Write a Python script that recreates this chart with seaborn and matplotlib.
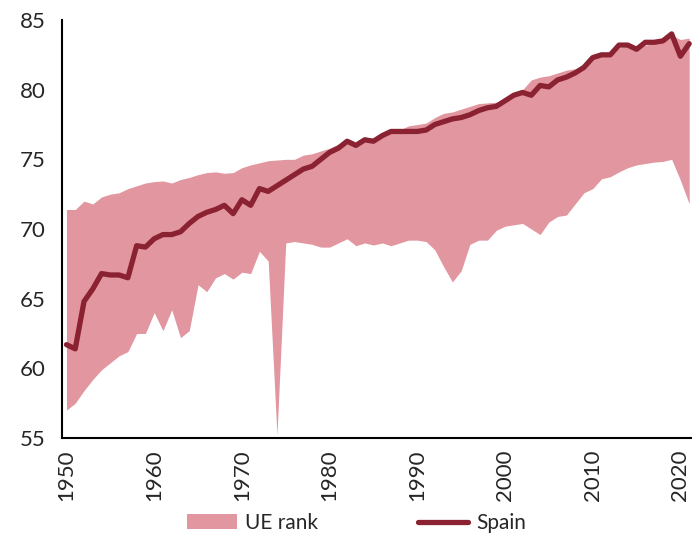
"""
Life expectancy: Spain vs the EU range (min-max band), 1950-2021.
"""

import matplotlib
matplotlib.use("Agg")
import matplotlib.pyplot as plt
import seaborn as sns
import pandas as pd
import numpy as np


years = list(range(1950, 2022))

spain = [
    61.7, 61.4, 64.8, 65.7, 66.8, 66.7, 66.7, 66.5, 68.8, 68.7,
    69.3, 69.6, 69.6, 69.8, 70.4, 70.9, 71.2, 71.4, 71.7, 71.1,
    72.1, 71.7, 72.9, 72.7, 73.1, 73.5, 73.9, 74.3, 74.5, 75.0,
    75.5, 75.8, 76.3, 76.0, 76.4, 76.3, 76.7, 77.0, 77.0, 77.0,
    77.0, 77.1, 77.5, 77.7, 77.9, 78.0, 78.2, 78.5, 78.7, 78.8,
    79.2, 79.6, 79.8, 79.6, 80.3, 80.2, 80.7, 80.9, 81.2, 81.6,
    82.3, 82.5, 82.5, 83.2, 83.2, 82.9, 83.4, 83.4, 83.5, 84.0,
    82.4, 83.3,
]

ue_max = [
    71.4, 71.4, 72.0, 71.8, 72.3, 72.5, 72.6, 72.9, 73.1, 73.3,
    73.4, 73.45, 73.3, 73.55, 73.7, 73.9, 74.05, 74.1, 74.0, 74.05,
    74.4, 74.6, 74.75, 74.9, 74.95, 75.0, 75.0, 75.3, 75.4, 75.6,
    75.8, 76.1, 76.3, 76.2, 76.6, 76.5, 76.7, 77.0, 77.1, 77.4,
    77.5, 77.6, 78.0, 78.3, 78.4, 78.6, 78.8, 79.0, 79.05, 79.1,
    79.3, 79.6, 80.0, 80.7, 80.9, 81.0, 81.2, 81.4, 81.5, 81.7,
    82.2, 82.4, 82.4, 83.0, 83.1, 82.9, 83.2, 83.3, 83.4, 83.9,
    83.6, 83.7,
]

ue_min = [
    57.0, 57.5, 58.4, 59.2, 59.9, 60.4, 60.9, 61.2, 62.5, 62.5,
    64.0, 62.7, 64.2, 62.2, 62.7, 66.0, 65.5, 66.5, 66.8, 66.4,
    66.9, 66.8, 68.4, 67.7, 55.2, 69.0, 69.1, 69.0, 68.9, 68.7,
    68.7, 69.0, 69.3, 68.8, 69.0, 68.85, 69.0, 68.8, 69.0, 69.2,
    69.2, 69.1, 68.5, 67.3, 66.2, 67.0, 68.9, 69.2, 69.2, 69.9,
    70.2, 70.3, 70.4, 70.0, 69.6, 70.5, 70.9, 71.0, 71.8, 72.6,
    72.9, 73.6, 73.75, 74.1, 74.4, 74.6, 74.7, 74.8, 74.85, 75.0,
    73.5, 71.8,
]

df = pd.DataFrame({"year": years, "spain": spain, "ue_min": ue_min, "ue_max": ue_max})

sns.set_style("white")
plt.rcParams["font.family"] = ["Lato", "DejaVu Sans"]

BAND_COLOR = "#E2969F"
LINE_COLOR = "#8B2232"

fig = plt.figure(figsize=(6.92, 5.51), dpi=100)
ax = fig.add_axes([62 / 692, 1 - 438 / 551, 630 / 692, 418 / 551])

band = ax.fill_between(df["year"], df["ue_min"], df["ue_max"],
                       color=BAND_COLOR, linewidth=0, label="UE rank")
sns.lineplot(data=df, x="year", y="spain", color=LINE_COLOR, linewidth=3.8,
             ax=ax, label="Spain", legend=False)
line = ax.get_lines()[0]

ax.set_xlim(1949.49, 2021.32)
ax.set_ylim(55, 85)
ax.set_yticks(range(55, 86, 5))
ax.set_xticks(range(1950, 2021, 10))
ax.tick_params(axis="y", length=0, pad=12, labelsize=16)
ax.tick_params(axis="x", length=0, pad=8, labelsize=16, rotation=90)
ax.set_xlabel("")
ax.set_ylabel("")

for side in ["top", "right"]:
    ax.spines[side].set_visible(False)
for side in ["left", "bottom"]:
    ax.spines[side].set_color("black")
    ax.spines[side].set_linewidth(1.5)

ax.legend([band, line], ["UE rank", "Spain"], loc="center",
          bbox_to_anchor=(0.468, -0.203), ncol=2, frameon=False,
          fontsize=15, handlelength=2.4, handletextpad=0.4, columnspacing=4.8)

fig.savefig("out.png", dpi=100)
